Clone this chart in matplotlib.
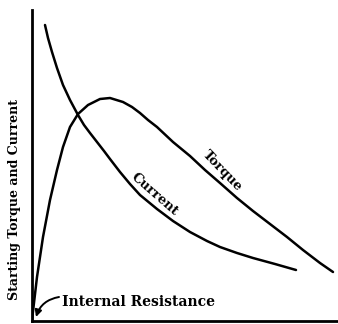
from matplotlib import pyplot as plt

# curve readings, resistance on x, torque / current on y (arbitrary units)
current_x = [13, 16, 20, 25, 31, 38, 46, 52, 58, 65, 72, 78, 88, 98, 108,
             125, 141, 158, 175, 188, 205, 221, 243, 264]
current_y = [296, 283, 269, 253, 236, 221, 206, 196, 188, 179, 170, 162, 149, 137, 126,
             112, 100, 89, 80, 74, 68, 63, 57, 51]

torque_x = [0, 5, 11, 18, 25, 31, 38, 46, 56, 68, 78, 91, 100, 108, 116, 125,
            141, 158, 173, 188, 205, 221, 238, 255, 271, 288, 301]
torque_y = [1, 44, 84, 121, 151, 174, 194, 207, 216, 222, 223, 219, 214, 208, 201, 194,
            179, 165, 151, 138, 123, 110, 97, 84, 71, 58, 49]

font = dict(family='DejaVu Serif', weight='bold')

fig = plt.figure(figsize=(3.38, 3.24), dpi=100)
ax = fig.add_axes([32 / 338, 3 / 324, 306 / 338, 311 / 324])

for xs, ys in [(current_x, current_y), (torque_x, torque_y)]:
    ax.plot(xs, ys, color='black', linewidth=1.8,
            solid_joinstyle='round', solid_capstyle='round')

ax.set_xlim(0, 306)
ax.set_ylim(0, 311)
ax.set_xticks([])
ax.set_yticks([])
for side in ['top', 'right']:
    ax.spines[side].set_visible(False)
for side in ['left', 'bottom']:
    ax.spines[side].set_linewidth(2)

# labels along the curves
ax.text(123, 127, "Current", rotation=-41, ha='center', va='center', size=9.5, **font)
ax.text(190, 150, "Torque", rotation=-46, ha='center', va='center', size=9.5, **font)

# curved pointer to the origin, then its caption
ax.annotate("", xy=(4, 4), xytext=(27, 24),
            arrowprops=dict(arrowstyle='-|>', color='black', linewidth=1.4,
                            mutation_scale=10, shrinkA=0, shrinkB=0,
                            connectionstyle='arc3,rad=0.3'))
ax.text(30, 19, "Internal Resistance", ha='left', va='center', size=10, **font)

fig.text(15 / 338, 1 - 200 / 324, "Starting Torque and Current",
         rotation=90, ha='center', va='center', size=9, **font)

plt.savefig('out.png', dpi=100)
